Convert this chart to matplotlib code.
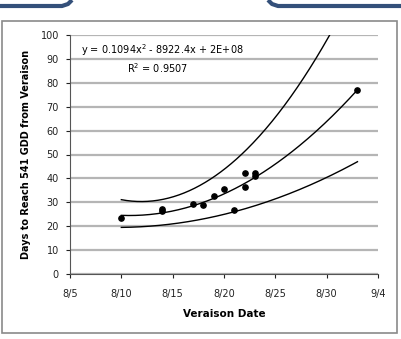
import numpy as np
import matplotlib
matplotlib.use("Agg")
import matplotlib.pyplot as plt
from matplotlib.patches import Rectangle
from datetime import date

# data (veraison date, days to reach GDD)
ver_dates = ["8/10", "8/14", "8/14", "8/17", "8/18", "8/19", "8/20",
             "8/21", "8/22", "8/22", "8/23", "8/23", "9/2"]
days_to_gdd = [23.6, 27.0, 26.2, 29.4, 28.8, 32.5, 35.4,
               26.7, 42.2, 36.4, 42.2, 41.1, 77.0]

# upper / lower curves, quadratic coefficients in days after 8/10
upper_coef = [0.207, -0.806, 31.1]
lower_coef = [0.0500, 0.045, 19.5]
lower_end = "9/2"

tick_labels = ["8/5", "8/10", "8/15", "8/20", "8/25", "8/30", "9/4"]
eq_text = "y = 0.1094x$^2$ - 8922.4x + 2E+08"
r2_text = "R$^2$ = 0.9507"


def to_day(s):
    m, d = s.split("/")
    return (date(2010, int(m), int(d)) - date(2010, 8, 10)).days


t = np.array([to_day(s) for s in ver_dates], dtype=float)
y = np.array(days_to_gdd)

plt.rcParams['font.family'] = ['DejaVu Sans']

fig = plt.figure(figsize=(4.01, 3.39), dpi=100)

# outer frame + slide decorations
fig.patches.append(Rectangle((2 / 401, 1 - 333 / 339), 395 / 401, 312 / 339,
                             transform=fig.transFigure, fill=False,
                             edgecolor='#8a8a8a', lw=1.2))
deco = fig.add_axes([0, 0, 1, 1], zorder=-1)
deco.set_xlim(0, 401)
deco.set_ylim(339, 0)
deco.axis('off')
deco.plot([0, 62, 68, 72], [6, 6, 4, 0], color='#34507a', lw=3, solid_capstyle='butt')
deco.plot([268, 272, 278, 401], [0, 4, 6, 6], color='#34507a', lw=3, solid_capstyle='butt')

ax = fig.add_axes([70 / 401, 65 / 339, 308 / 401, 239 / 339])

# fitted trend (middle) and the two outer curves
fit = np.polyfit(t, y, 2)
tm = np.linspace(t.min(), t.max(), 200)
ax.plot(tm, np.polyval(fit, tm), color='black', lw=1)

# upper curve runs until it leaves the top of the plot
r = np.roots(np.polyadd(upper_coef, [-100]))
t_top = max(r.real)
tu = np.linspace(0, t_top, 200)
ax.plot(tu, np.polyval(upper_coef, tu), color='black', lw=1)
tl = np.linspace(0, to_day(lower_end), 200)
ax.plot(tl, np.polyval(lower_coef, tl), color='black', lw=1)

ax.plot(t, y, 'o', color='black', markersize=3.8)

xt = [to_day(s) for s in tick_labels]
ax.set_xlim(xt[0], xt[-1])
ax.set_ylim(0, 100)
ax.set_xticks(xt)
ax.set_xticklabels(tick_labels)
ax.set_yticks(range(0, 101, 10))
ax.tick_params(labelsize=7, length=3, width=0.8, colors='#222222')
ax.tick_params(axis='y', pad=5)
ax.tick_params(axis='x', pad=8)
ax.yaxis.grid(True, color='#b5b5b5', lw=1.6)
ax.set_axisbelow(True)
for s in ['top', 'right']:
    ax.spines[s].set_visible(False)
for s in ['left', 'bottom']:
    ax.spines[s].set_color('#555555')
    ax.spines[s].set_linewidth(0.8)

ax.set_xlabel("Veraison Date", fontsize=7.5, fontweight='bold', labelpad=7)
ax.set_ylabel("Days to Reach 541 GDD from Veraison", fontsize=7,
              fontweight='bold', labelpad=7)

ax.text(0.036, 0.937, eq_text, transform=ax.transAxes, fontsize=7,
        va='center', ha='left')
ax.text(0.185, 0.862, r2_text, transform=ax.transAxes, fontsize=7,
        va='center', ha='left')

fig.savefig("out.png", dpi=100)
